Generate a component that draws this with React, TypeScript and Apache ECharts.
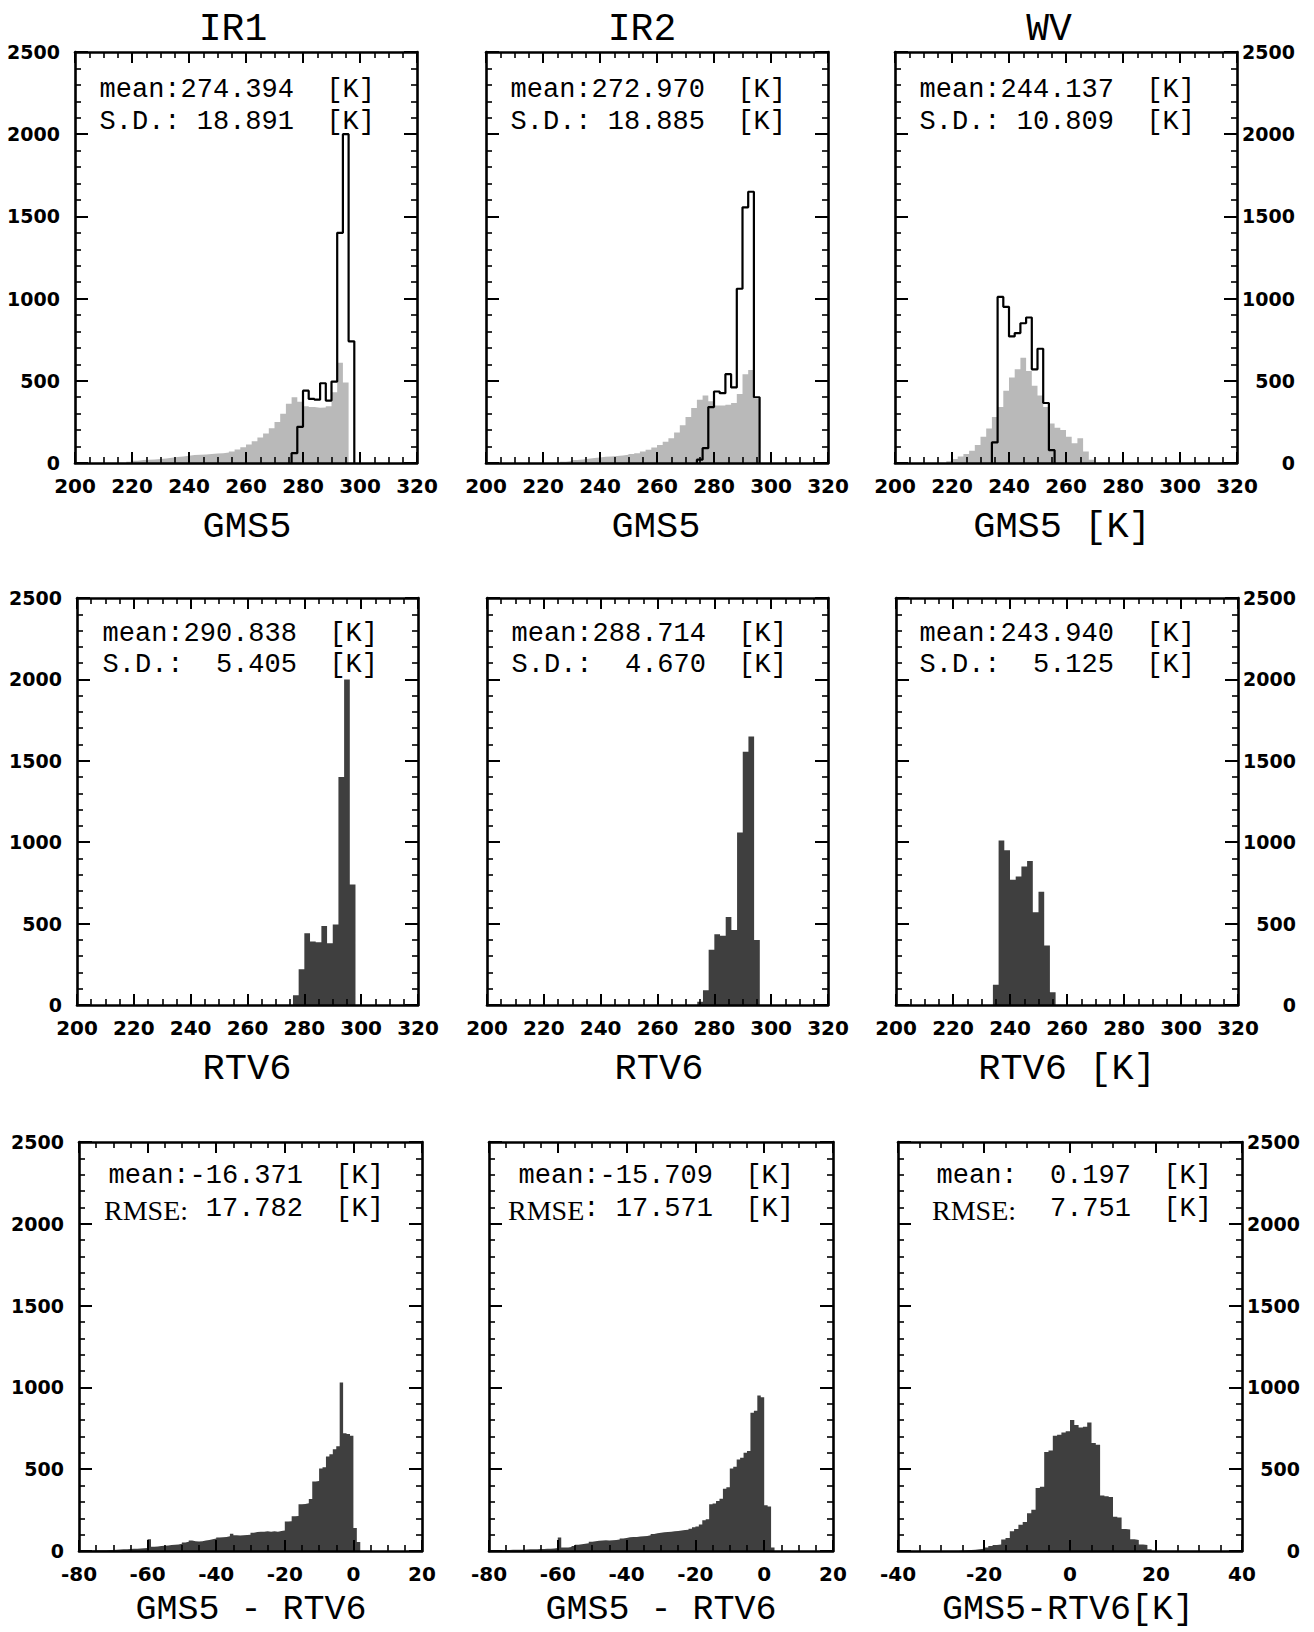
import React, { useEffect, useRef } from 'react';
import * as echarts from 'echarts';

// ---- data -------------------------------------------------------------
const channels = ['IR1', 'IR2', 'WV'];

// Brightness-temperature histograms, 2 K bins (first bin left edge + counts)
const tempBinWidth = 2;
const ir1Gms5Start = 218;
const ir1Gms5Counts = [8, 14, 18, 20, 22, 25, 28, 32, 36, 40, 44, 48, 50, 52, 55, 58, 60, 64, 70, 82, 96, 112, 132, 155, 180, 212, 250, 300, 360, 400, 372, 345, 340, 336, 338, 345, 430, 610, 490];
const ir1Rtv6Start = 276;
const ir1Rtv6Counts = [60, 220, 440, 390, 385, 485, 380, 495, 1400, 2000, 740];

const ir2Gms5Start = 226;
const ir2Gms5Counts = [8, 12, 18, 22, 26, 30, 34, 38, 40, 43, 46, 50, 55, 60, 70, 80, 95, 110, 130, 150, 185, 230, 280, 335, 385, 410, 375, 350, 350, 355, 365, 420, 540, 565, 390];
const ir2Rtv6Start = 274;
const ir2Rtv6Counts = [20, 90, 340, 435, 425, 540, 460, 1060, 1555, 1650, 400];

const wvGms5Start = 218;
const wvGms5Counts = [10, 25, 40, 55, 75, 110, 160, 210, 280, 340, 440, 520, 570, 640, 560, 470, 410, 340, 240, 215, 200, 160, 120, 150, 70, 20];
const wvRtv6Start = 234;
const wvRtv6Counts = [125, 1010, 950, 770, 790, 850, 885, 570, 695, 365, 78];

// GMS5 - RTV6 difference histograms, 1 K bins
const diffBinWidth = 1;
const ir1DiffStart = -80;
const ir1DiffCounts = [
  2, 2, 3, 3, 4, 4, 5, 5, 6, 6,
  8, 9, 10, 11, 12, 13, 14, 15, 17, 19,
  72,
  26, 28, 30, 32, 34, 36, 38, 40, 44,
  52, 56, 64, 60, 58, 60, 64, 68, 72, 76,
  82, 84, 86, 90, 106, 96, 94, 96, 98, 100,
  112, 116, 118, 118, 120, 118, 120, 118, 122, 126,
  180, 182, 212, 214, 285, 288, 292, 318, 425, 428,
  505, 512, 578, 592, 622, 640, 1030, 720, 715, 705,
  140, 55,
];
const ir2DiffStart = -80;
const ir2DiffCounts = [
  4, 5, 5, 6, 6, 6, 7, 7, 8, 8,
  9, 10, 10, 11, 12, 12, 13, 14, 16, 18,
  82,
  22, 22, 25, 30, 38, 42, 44, 48, 56,
  60, 62, 64, 65, 64, 66, 68, 70, 76, 80,
  84, 86, 86, 88, 90, 92, 96, 104, 108, 112,
  114, 116, 118, 120, 122, 126, 128, 130, 136, 145,
  150, 162, 188, 194, 285, 290, 305, 320, 380, 390,
  505, 515, 560, 570, 600, 612, 845, 858, 950, 940,
  280, 272, 22,
];
const wvDiffStart = -26;
const wvDiffCounts = [
  3, 5, 6, 8, 10, 14, 22, 30, 36, 40,
  70, 80, 120, 134, 160, 178, 230, 252, 385, 392,
  605, 615, 705, 710, 725, 732, 800, 770, 755, 760,
  785, 660, 650, 340, 335, 330, 210, 205, 135, 132,
  72, 68, 40, 36, 10,
];

// Printed statistics
const gms5Mean = ['274.394', '272.970', '244.137'];
const gms5Sd = ['18.891', '18.885', '10.809'];
const rtv6Mean = ['290.838', '288.714', '243.940'];
const rtv6Sd = ['5.405', '4.670', '5.125'];
const diffMean = ['-16.371', '-15.709', '0.197'];
const rmseHeads = ['RMSE:', 'RMSE', 'RMSE:'];
const rmseTails = [' 17.782  [K]', ': 17.571  [K]', '7.751  [K]'];

// Axis ranges
const tempRange = [200, 320];
const diffRanges = [[-80, 20], [-80, 20], [-40, 40]];
const countRange = [0, 2500];
const xAxisNames = [
  ['GMS5', 'GMS5', 'GMS5 [K]'],
  ['RTV6', 'RTV6', 'RTV6 [K]'],
  ['GMS5 - RTV6', 'GMS5 - RTV6', 'GMS5-RTV6[K]'],
];

// ---- layout -----------------------------------------------------------
const panelLeft = [[75, 486, 895], [77, 487, 896], [79, 489, 898]];
const panelWidth = [[342, 342, 342], [341, 341, 342], [343, 344, 344]];
const panelTop = [52, 598, 1142];
const panelHeight = [411, 407, 409];
const titleX = [233, 642, 1049];
const titleY = 29;
const nameX = [[247, 656, 1062], [247, 659, 1067], [251, 661, 1068]];
const nameY = [527, 1069, 1610];
const nameSize = [37, 37, 35];
const statRight = [[375, 786, 1195], [378, 787, 1195], [384, 794, 1212]];
const statY = [[90, 122], [634, 665], [1176, 1209]];
const rmseLeft = [104, 508, 932];

const LIGHT = '#b9b9b9';
const DARK = '#3f3f3f';
const MONO = '"Liberation Mono", "DejaVu Sans Mono", monospace';
const SERIF = '"Liberation Serif", "DejaVu Serif", serif';
const LABEL_FONT = '"DejaVu Sans", "Liberation Sans", sans-serif';

// Turn binned counts into a closed step outline of (bin edge, count) pairs
function stepPoints(start: number, width: number, counts: number[]) {
  const pts: number[][] = [[start, 0]];
  counts.forEach((c, i) => {
    const x0 = start + i * width;
    pts.push([x0, c], [x0 + width, c]);
  });
  pts.push([start + counts.length * width, 0]);
  return pts;
}

function textEl(text: string, x: number, y: number, font: string, align: string) {
  return {
    type: 'text',
    x,
    y,
    style: {
      text,
      font,
      fill: '#000',
      align,
      verticalAlign: 'middle',
      textAlign: align,
      textVerticalAlign: 'middle',
    },
  };
}

function buildOption() {
  const grid: any[] = [];
  const xAxis: any[] = [];
  const yAxis: any[] = [];
  const series: any[] = [];
  const graphic: any[] = [];

  const lineStyle = { color: '#000', width: 2.6 };
  const tickStyle = { color: '#000', width: 2 };
  const minorStyle = { color: '#000', width: 1.6 };
  const labelStyle = {
    color: '#000',
    fontFamily: LABEL_FONT,
    fontWeight: 'bold',
    fontSize: 20,
    formatter: (v: number) => String(v),
  };

  const gms5 = [
    [ir1Gms5Start, ir1Gms5Counts],
    [ir2Gms5Start, ir2Gms5Counts],
    [wvGms5Start, wvGms5Counts],
  ] as [number, number[]][];
  const rtv6 = [
    [ir1Rtv6Start, ir1Rtv6Counts],
    [ir2Rtv6Start, ir2Rtv6Counts],
    [wvRtv6Start, wvRtv6Counts],
  ] as [number, number[]][];
  const diff = [
    [ir1DiffStart, ir1DiffCounts],
    [ir2DiffStart, ir2DiffCounts],
    [wvDiffStart, wvDiffCounts],
  ] as [number, number[]][];

  for (let r = 0; r < 3; r++) {
    for (let c = 0; c < 3; c++) {
      const g = grid.length;
      grid.push({
        left: panelLeft[r][c],
        top: panelTop[r],
        width: panelWidth[r][c],
        height: panelHeight[r],
      });
      const [xmin, xmax] = r < 2 ? tempRange : diffRanges[c];
      const xBase = {
        type: 'value',
        gridIndex: g,
        min: xmin,
        max: xmax,
        interval: 20,
        z: 10,
        axisLine: { show: true, onZero: false, lineStyle },
        axisTick: { show: true, inside: true, length: 11, lineStyle: tickStyle },
        minorTick: { show: true, splitNumber: 4, length: 6, lineStyle: minorStyle },
        splitLine: { show: false },
        minorSplitLine: { show: false },
      };
      xAxis.push({ ...xBase, position: 'bottom', axisLabel: { ...labelStyle, margin: 13 } });
      xAxis.push({ ...xBase, position: 'top', axisLabel: { show: false } });

      const yBase = {
        type: 'value',
        gridIndex: g,
        min: countRange[0],
        max: countRange[1],
        interval: 500,
        z: 10,
        axisLine: { show: true, onZero: false, lineStyle },
        axisTick: { show: true, inside: true, length: 13, lineStyle: tickStyle },
        minorTick: { show: true, splitNumber: 5, length: 6, lineStyle: minorStyle },
        splitLine: { show: false },
        minorSplitLine: { show: false },
      };
      yAxis.push({
        ...yBase,
        position: 'left',
        axisLabel: { ...labelStyle, fontSize: 19, show: c === 0, margin: 15 },
      });
      yAxis.push({
        ...yBase,
        position: 'right',
        axisLabel: { ...labelStyle, fontSize: 19, show: c === 2, margin: 58, align: 'right' },
      });

      const base = {
        type: 'line',
        xAxisIndex: g * 2,
        yAxisIndex: g * 2,
        symbol: 'none',
        silent: true,
        animation: false,
      };
      if (r === 0) {
        series.push({
          ...base,
          z: 2,
          data: stepPoints(gms5[c][0], tempBinWidth, gms5[c][1]),
          lineStyle: { width: 0 },
          areaStyle: { color: LIGHT, opacity: 1 },
        });
        series.push({
          ...base,
          z: 3,
          data: stepPoints(rtv6[c][0], tempBinWidth, rtv6[c][1]),
          lineStyle: { width: 2.2, color: '#000' },
        });
      } else if (r === 1) {
        series.push({
          ...base,
          z: 2,
          data: stepPoints(rtv6[c][0], tempBinWidth, rtv6[c][1]),
          lineStyle: { width: 0 },
          areaStyle: { color: DARK, opacity: 1 },
        });
      } else {
        series.push({
          ...base,
          z: 2,
          data: stepPoints(diff[c][0], diffBinWidth, diff[c][1]),
          lineStyle: { width: 0 },
          areaStyle: { color: DARK, opacity: 1 },
        });
      }

      // axis name under the panel
      graphic.push(textEl(xAxisNames[r][c], nameX[r][c], nameY[r], `${nameSize[r]}px ${MONO}`, 'center'));

      // statistics block
      const right = statRight[r][c];
      const monoFont = `27px ${MONO}`;
      if (r === 0) {
        graphic.push(textEl(`mean:${gms5Mean[c]}  [K]`, right, statY[r][0], monoFont, 'right'));
        graphic.push(textEl(`S.D.: ${gms5Sd[c].padStart(6)}  [K]`, right, statY[r][1], monoFont, 'right'));
      } else if (r === 1) {
        graphic.push(textEl(`mean:${rtv6Mean[c]}  [K]`, right, statY[r][0], monoFont, 'right'));
        graphic.push(textEl(`S.D.: ${rtv6Sd[c].padStart(6)}  [K]`, right, statY[r][1], monoFont, 'right'));
      } else {
        graphic.push(textEl(`mean:${diffMean[c].padStart(7)}  [K]`, right, statY[r][0], monoFont, 'right'));
        graphic.push(textEl(rmseHeads[c], rmseLeft[c], statY[r][1] + 1, `28px ${SERIF}`, 'left'));
        graphic.push(textEl(rmseTails[c], right, statY[r][1], monoFont, 'right'));
      }
    }
  }

  channels.forEach((ch, c) => {
    graphic.push(textEl(ch, titleX[c], titleY, `38px ${MONO}`, 'center'));
  });

  return {
    animation: false,
    backgroundColor: '#fff',
    grid,
    xAxis,
    yAxis,
    series,
    graphic,
  };
}

export default function App() {
  const ref = useRef<HTMLDivElement>(null);
  useEffect(() => {
    if (!ref.current) return;
    const chart = echarts.init(ref.current, null, { renderer: 'svg' });
    chart.setOption(buildOption() as any);
    return () => chart.dispose();
  }, []);
  return (
    <div
      ref={ref}
      style={{ position: 'absolute', left: 0, top: 0, width: 1314, height: 1632, background: '#fff' }}
    />
  );
}
